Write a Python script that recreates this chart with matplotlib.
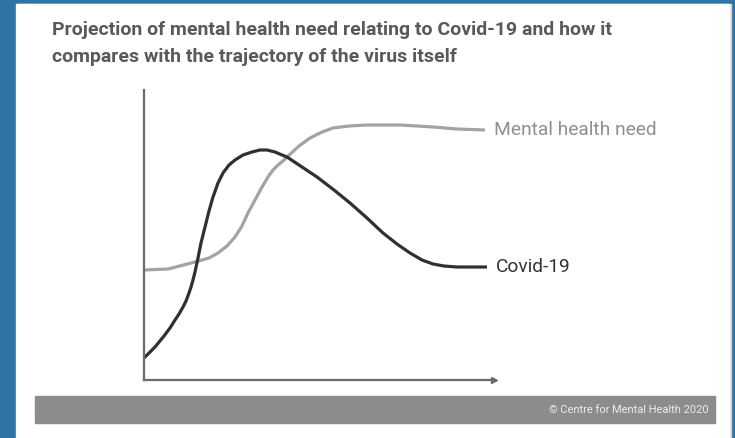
import matplotlib
matplotlib.use("Agg")
import matplotlib.pyplot as plt
from matplotlib.patches import Rectangle
from matplotlib import font_manager

# Series traced as (x, y) pairs on an arbitrary 0-350 / 0-290 scale
covid_x = [0, 5, 11, 20, 26, 31, 35, 39, 42, 45, 47, 49, 51, 54, 57, 61, 65, 69, 74,
           79, 85, 91, 99, 108, 116, 123, 131, 138, 143, 155, 173, 190, 206, 223, 239,
           253, 266, 278, 289, 300, 313, 343]
covid_y = [22, 27, 33, 44, 52, 60, 66, 73, 79, 87, 93, 100, 108, 122, 137, 153, 169,
           183, 197, 207, 215, 220, 225, 228, 230, 230, 228, 225, 223, 215, 203, 190,
           177, 162, 147, 136, 127, 120, 116, 114, 113, 113]

mental_x = [0, 24, 51, 65, 74, 83, 91, 98, 104, 111, 118, 124, 129, 134, 139, 143,
            155, 166, 178, 189, 205, 223, 256, 289, 313, 341]
mental_y = [110, 111, 118, 122, 127, 134, 143, 154, 167, 180, 193, 203, 210, 215, 219,
            223, 234, 242, 248, 252, 254, 255, 255, 253, 251, 250]

series_labels = ["Covid-19", "Mental health need"]
title_lines = ["Projection of mental health need relating to Covid-19 and how it",
               "compares with the trajectory of the virus itself"]
credit = "\u00a9 Centre for Mental Health 2020"

available = {f.name for f in font_manager.fontManager.ttflist}
narrow = "Liberation Sans Narrow" if "Liberation Sans Narrow" in available else "Roboto"

W, H = 735, 438
fig = plt.figure(figsize=(W / 100, H / 100), dpi=100)

# Background canvas in pixel coordinates
bg = fig.add_axes([0, 0, 1, 1])
bg.set_xlim(0, W)
bg.set_ylim(H, 0)
bg.axis("off")
bg.add_patch(Rectangle((0, 0), W, H, color="#2f74a5", zorder=0))
bg.add_patch(Rectangle((17, 4), 714, H, color="#d9d9d9", zorder=1))
bg.add_patch(Rectangle((16, 4), 713, H, color="#ffffff", zorder=2))
bg.add_patch(Rectangle((35, 396), 680, 27, color="#8c8c8c", zorder=3))
bg.text(709, 410, credit, ha="right", va="center", fontsize=7.9,
        family=narrow, color="#ececec", zorder=4)
for i, line in enumerate(title_lines):
    bg.text(52, 30 + 27 * i, line, ha="left", va="center", fontsize=14,
            family=narrow, fontweight="bold", color="#595959", zorder=4)

# Chart area
x0, y0, x1, y1 = 144, 380, 494, 90
ax = fig.add_axes([x0 / W, (H - y0) / H, (x1 - x0) / W, (y0 - y1) / H])
ax.set_xlim(0, x1 - x0)
ax.set_ylim(0, y0 - y1)
ax.patch.set_alpha(0)
for side in ("top", "right"):
    ax.spines[side].set_visible(False)
for side in ("left", "bottom"):
    ax.spines[side].set_color("#6a6a6a")
    ax.spines[side].set_linewidth(1.6)
ax.set_xticks([])
ax.set_yticks([])
ax.plot(1, 0, marker=">", markersize=4.5, color="#6a6a6a",
        transform=ax.transAxes, clip_on=False)

ax.plot(mental_x, mental_y, color="#a3a3a3", lw=2.3, solid_capstyle="butt",
        solid_joinstyle="round")
ax.plot(covid_x, covid_y, color="#303030", lw=2.3, solid_capstyle="butt",
        solid_joinstyle="round")

ax.text(mental_x[-1] + 9, mental_y[-1], series_labels[1], ha="left", va="center",
        fontsize=13.8, family=narrow, color="#8f8f8f", clip_on=False)
ax.text(covid_x[-1] + 9, covid_y[-1], series_labels[0], ha="left", va="center",
        fontsize=13.8, family=narrow, color="#333333", clip_on=False)

fig.savefig("out.png", dpi=100)
